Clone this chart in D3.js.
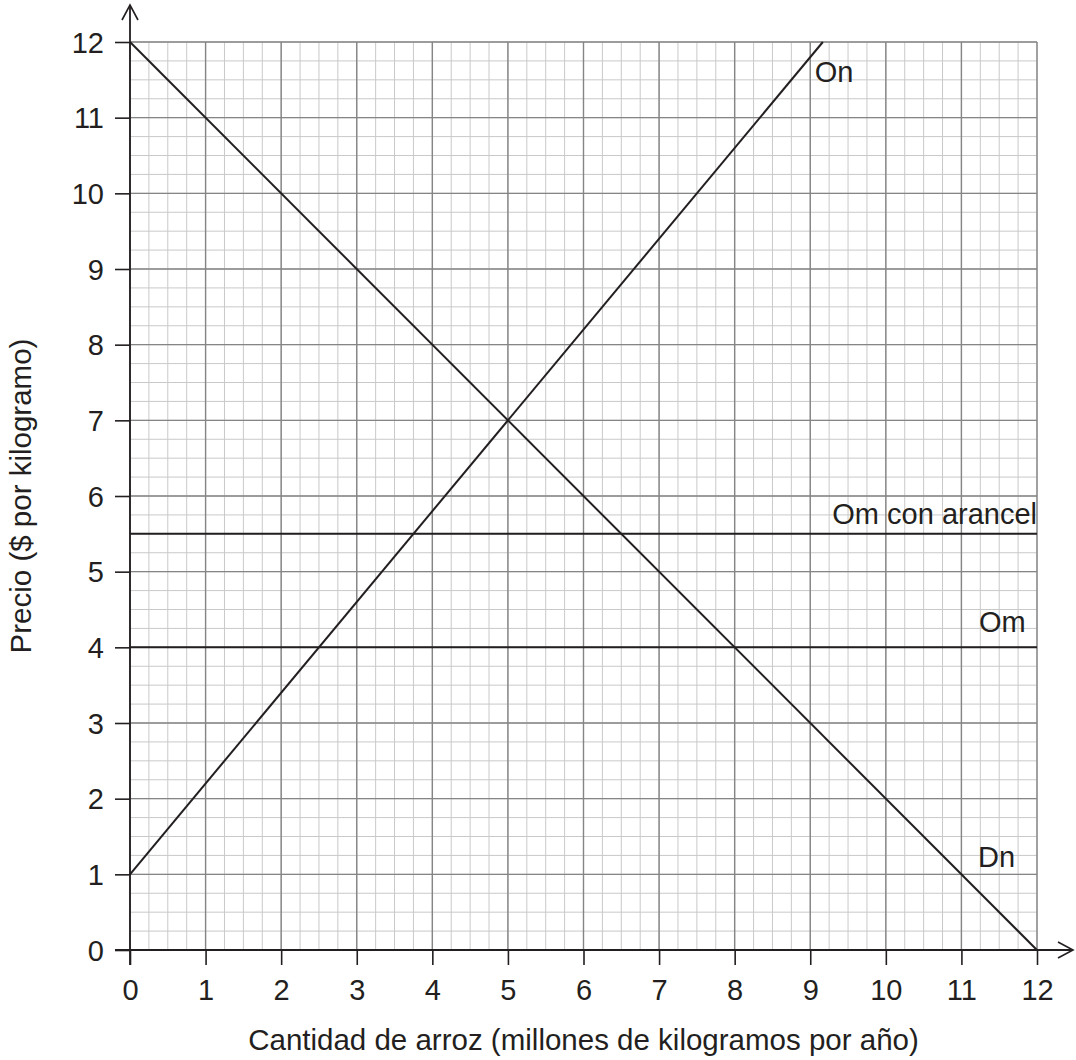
<!DOCTYPE html>
<html><head><meta charset="utf-8">
<script src="https://cdn.jsdelivr.net/npm/d3@7"></script>
<style>
html,body{margin:0;padding:0;background:#fff;}
svg text{font-family:"Liberation Sans",Arial,Helvetica,sans-serif;fill:#231f20;}
</style></head>
<body><svg id="c" width="1076" height="1060"></svg>
<script>
// ---- data ----
const xTicks = [0,1,2,3,4,5,6,7,8,9,10,11,12];
const yTicks = [0,1,2,3,4,5,6,7,8,9,10,11,12];
const xTitle = "Cantidad de arroz (millones de kilogramos por año)";
const yTitle = "Precio ($ por kilogramo)";
// supply On: quantity, price
const supplyQ = [0, 9.1667];
const supplyP = [1, 12];
// demand Dn
const demandQ = [0, 12];
const demandP = [12, 0];
// world supply lines (horizontal)
const omTariffQ = [0, 12];
const omTariffP = [5.5, 5.5];
const omQ = [0, 12];
const omP = [4, 4];
const labels = ["On", "Om con arancel", "Om", "Dn"];
const labelQ = [9.06, 12, 11.85, 11.22];
const labelP = [11.47, 5.63, 4.2, 1.1];

// ---- drawing ----
const svg = d3.select("#c");
const x = d3.scaleLinear().domain([0,12]).range([130,1037]);
const y = d3.scaleLinear().domain([0,12]).range([950,42]);
const ink = "#231f20";

const minor = d3.range(0, 12.001, 0.25);
const g = svg.append("g");
// minor grid
g.selectAll("line.mx").data(minor).join("line")
  .attr("x1", d=>x(d)).attr("x2", d=>x(d)).attr("y1", y(0)).attr("y2", y(12))
  .attr("stroke", "#c9c9c9").attr("stroke-width", 1);
g.selectAll("line.my").data(minor).join("line")
  .attr("y1", d=>y(d)).attr("y2", d=>y(d)).attr("x1", x(0)).attr("x2", x(12))
  .attr("stroke", "#c9c9c9").attr("stroke-width", 1);
// major grid
g.selectAll("line.Mx").data(xTicks).join("line")
  .attr("x1", d=>x(d)).attr("x2", d=>x(d)).attr("y1", y(0)).attr("y2", y(12))
  .attr("stroke", "#858585").attr("stroke-width", 1.4);
g.selectAll("line.My").data(yTicks).join("line")
  .attr("y1", d=>y(d)).attr("y2", d=>y(d)).attr("x1", x(0)).attr("x2", x(12))
  .attr("stroke", "#858585").attr("stroke-width", 1.4);

// axes via d3 axis generators
const xAxis = d3.axisBottom(x).tickValues(xTicks).tickSize(15).tickPadding(14).tickFormat(d3.format("d"));
const yAxis = d3.axisLeft(y).tickValues(yTicks).tickSize(15).tickPadding(11).tickFormat(d3.format("d"));
const gx = svg.append("g").attr("transform", `translate(0,${y(0)})`).call(xAxis);
const gy = svg.append("g").attr("transform", `translate(${x(0)},0)`).call(yAxis);
[gx, gy].forEach(a => {
  a.select(".domain").remove();
  a.selectAll(".tick line").attr("stroke", ink).attr("stroke-width", 1.6);
  a.selectAll(".tick text").attr("font-size", 29).attr("fill", ink)
    .style("font-family", '"Liberation Sans",Arial,sans-serif');
});
gx.selectAll(".tick text").attr("dy", null).attr("y", 0).attr("dominant-baseline","alphabetic").attr("transform","translate(0,50)");
gy.selectAll(".tick text").attr("dy", "0.35em");

// axis lines with arrows
svg.append("line").attr("x1", x(0)).attr("x2", x(0)).attr("y1", y(0)+15).attr("y2", 5)
  .attr("stroke", ink).attr("stroke-width", 1.8);
svg.append("line").attr("x1", x(0)-15).attr("x2", 1073).attr("y1", y(0)).attr("y2", y(0))
  .attr("stroke", ink).attr("stroke-width", 1.8);
svg.append("path").attr("d", `M${x(0)-8},${20} L${x(0)},${5} L${x(0)+8},${20}`)
  .attr("fill","none").attr("stroke", ink).attr("stroke-width", 1.6);
svg.append("path").attr("d", `M1058,${y(0)-8} L1073,${y(0)} L1058,${y(0)+8}`)
  .attr("fill","none").attr("stroke", ink).attr("stroke-width", 1.6);

// curves
const line = d3.line().x(d=>x(d[0])).y(d=>y(d[1]));
const series = [
  d3.zip(supplyQ, supplyP),
  d3.zip(demandQ, demandP),
  d3.zip(omTariffQ, omTariffP),
  d3.zip(omQ, omP)
];
svg.selectAll("path.s").data(series).join("path")
  .attr("d", line).attr("fill","none").attr("stroke", ink).attr("stroke-width", 2);

// labels
const anchors = ["start","end","end","start"];
svg.selectAll("text.lab").data(labels).join("text")
  .attr("x", (d,i)=>x(labelQ[i])).attr("y", (d,i)=>y(labelP[i]))
  .attr("text-anchor", (d,i)=>anchors[i]).attr("font-size", 29).text(d=>d);

// titles
svg.append("text").attr("x", (x(0)+x(12))/2).attr("y", 1050).attr("text-anchor","middle")
  .attr("font-size", 29.5).text(xTitle);
svg.append("text").attr("transform", `translate(31,${(y(0)+y(12))/2}) rotate(-90)`)
  .attr("text-anchor","middle").attr("font-size", 29.5).text(yTitle);
</script></body></html>
